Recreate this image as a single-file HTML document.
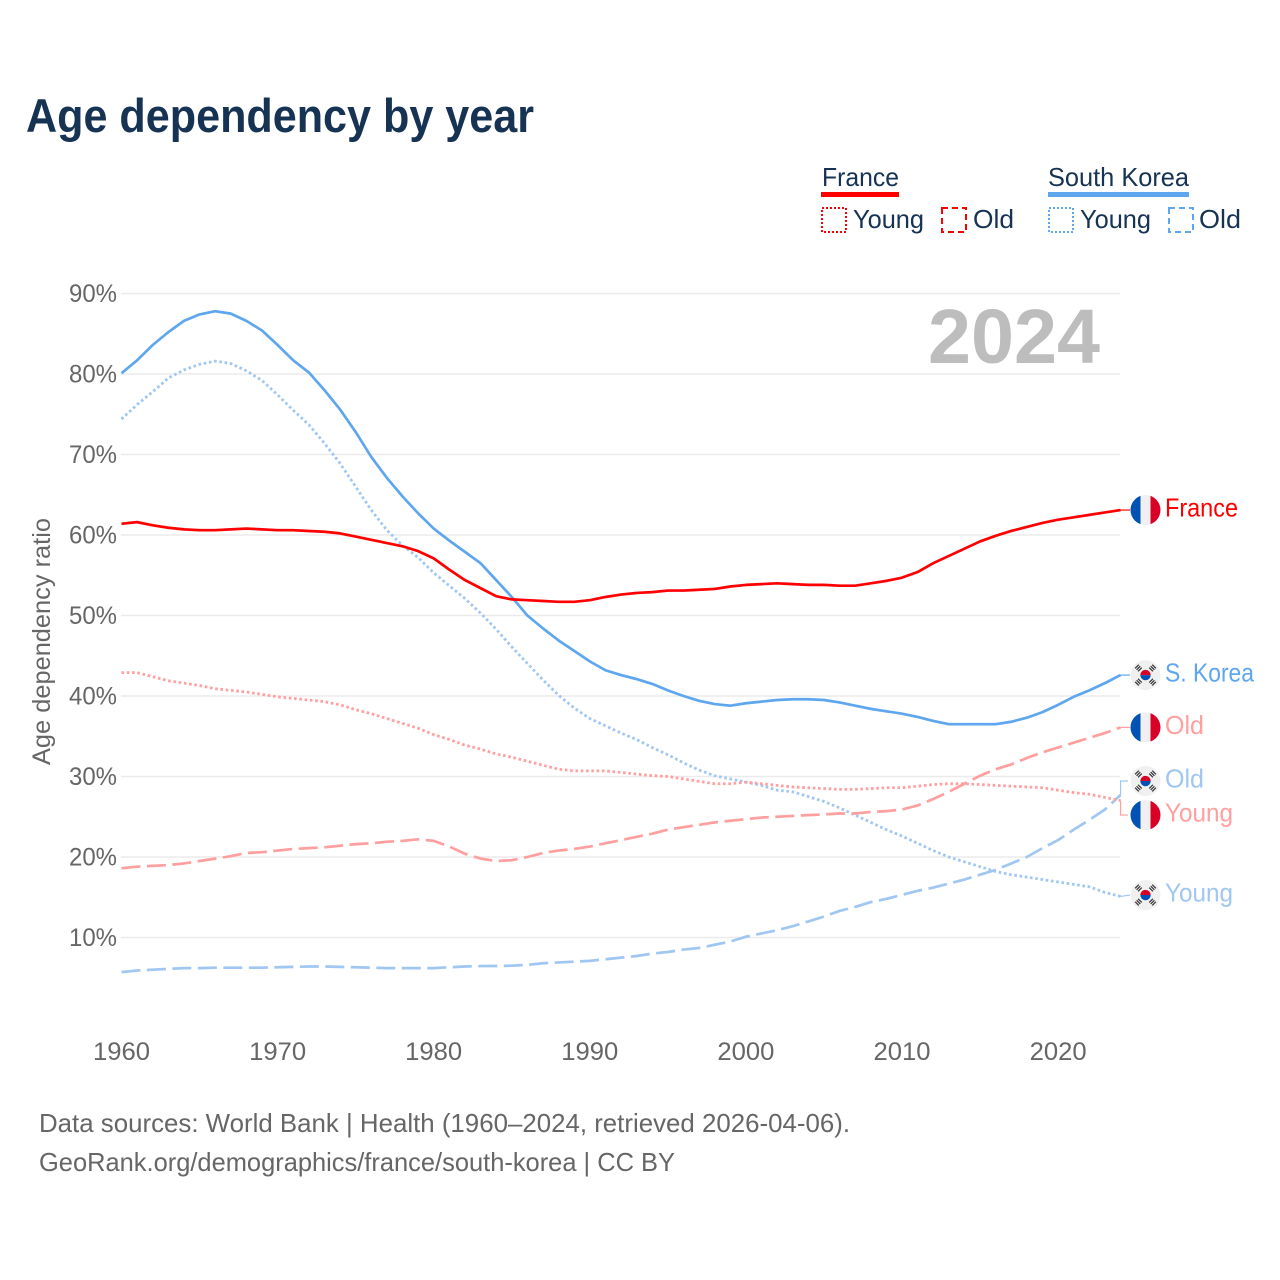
<!DOCTYPE html>
<html lang="en">
<head>
<meta charset="utf-8">
<title>Age dependency by year</title>
<style>
html,body{margin:0;padding:0;background:#fff;}
svg{display:block;font-family:"Liberation Sans",sans-serif;}
</style>
</head>
<body>
<svg id="chart" xmlns="http://www.w3.org/2000/svg" width="1280" height="1280" viewBox="0 0 1280 1280">
  <rect x="0" y="0" width="1280" height="1280" fill="#ffffff"/>
  <text x="26" y="132" font-size="47" font-weight="700" fill="#173354" textLength="508" lengthAdjust="spacingAndGlyphs">Age dependency by year</text>

  <g>
    <text x="822" y="186" font-size="26" fill="#173354" textLength="77" lengthAdjust="spacingAndGlyphs">France</text>
    <rect x="821" y="192" width="78" height="5" fill="#ff0000"/>
    <rect x="822" y="208" width="24" height="24" fill="none" stroke="#ff0000" stroke-width="2" stroke-dasharray="2,2"/>
    <text x="853" y="228" font-size="26" fill="#173354" textLength="71" lengthAdjust="spacingAndGlyphs">Young</text>
    <rect x="942" y="208" width="24" height="24" fill="none" stroke="#ff0000" stroke-width="2" stroke-dasharray="6,4"/>
    <text x="973" y="228" font-size="26" fill="#173354" textLength="41" lengthAdjust="spacingAndGlyphs">Old</text>
    <text x="1048" y="186" font-size="26" fill="#173354" textLength="141" lengthAdjust="spacingAndGlyphs">South Korea</text>
    <rect x="1048" y="192" width="141" height="5" fill="#5ea6ee"/>
    <rect x="1049" y="208" width="24" height="24" fill="none" stroke="#5ea6ee" stroke-width="2" stroke-dasharray="2,2"/>
    <text x="1080" y="228" font-size="26" fill="#173354" textLength="71" lengthAdjust="spacingAndGlyphs">Young</text>
    <rect x="1169" y="208" width="24" height="24" fill="none" stroke="#5ea6ee" stroke-width="2" stroke-dasharray="6,4"/>
    <text x="1199" y="228" font-size="26" fill="#173354" textLength="42" lengthAdjust="spacingAndGlyphs">Old</text>
  </g>

  <g id="grid"></g>
  <g id="yticks"></g>
  <g id="xticks"></g>
  <text transform="translate(50,641.5) rotate(-90)" text-anchor="middle" font-size="25" fill="#666666" textLength="247" lengthAdjust="spacingAndGlyphs">Age dependency ratio</text>
  <text x="928" y="363" font-size="77" font-weight="700" fill="#bdbdbd" textLength="172" lengthAdjust="spacingAndGlyphs">2024</text>
  <g id="series"></g>
  <g id="labels"></g>

  <text x="39" y="1132" font-size="26" fill="#666666" textLength="811" lengthAdjust="spacingAndGlyphs">Data sources: World Bank | Health (1960–2024, retrieved 2026-04-06).</text>
  <text x="39" y="1171" font-size="26" fill="#666666" textLength="636" lengthAdjust="spacingAndGlyphs">GeoRank.org/demographics/france/south-korea | CC BY</text>
</svg>
<script>
const startYear = 1960;
const yTickValues = [10, 20, 30, 40, 50, 60, 70, 80, 90];
const xTickValues = [1960, 1970, 1980, 1990, 2000, 2010, 2020];

const franceTotal = [61.4,61.6,61.2,60.9,60.7,60.6,60.6,60.7,60.8,60.7,
  60.6,60.6,60.5,60.4,60.2,59.8,59.4,59.0,58.6,58.0,
  57.1,55.7,54.4,53.4,52.4,52.0,51.9,51.8,51.7,51.7,
  51.9,52.3,52.6,52.8,52.9,53.1,53.1,53.2,53.3,53.6,
  53.8,53.9,54.0,53.9,53.8,53.8,53.7,53.7,54.0,54.3,
  54.7,55.4,56.5,57.4,58.3,59.2,59.9,60.5,61.0,61.5,
  61.9,62.2,62.5,62.8,63.1];
const koreaTotal = [80.1,81.7,83.6,85.2,86.6,87.4,87.8,87.5,86.6,85.4,
  83.6,81.7,80.2,78.0,75.6,72.8,69.7,67.1,64.8,62.7,
  60.8,59.3,57.9,56.5,54.4,52.3,50.0,48.4,46.9,45.6,
  44.3,43.2,42.6,42.1,41.5,40.7,40.0,39.4,39.0,38.8,
  39.1,39.3,39.5,39.6,39.6,39.5,39.2,38.8,38.4,38.1,
  37.8,37.4,36.9,36.5,36.5,36.5,36.5,36.8,37.3,38.0,
  38.9,39.9,40.7,41.6,42.6];
const franceYoung = [42.9,42.9,42.4,41.9,41.6,41.3,40.9,40.7,40.5,40.2,
  39.9,39.7,39.5,39.3,38.9,38.3,37.8,37.2,36.6,36.0,
  35.2,34.6,33.9,33.4,32.8,32.4,31.9,31.4,30.9,30.7,
  30.7,30.7,30.5,30.3,30.1,30.0,29.7,29.4,29.1,29.1,
  29.3,29.1,28.9,28.7,28.6,28.5,28.4,28.4,28.5,28.6,
  28.6,28.8,29.0,29.1,29.1,29.0,28.9,28.8,28.7,28.6,
  28.3,28.0,27.8,27.4,27.0];
const franceOld = [18.6,18.8,18.9,19.0,19.2,19.5,19.8,20.1,20.5,20.6,
  20.8,21.0,21.1,21.2,21.4,21.6,21.7,21.9,22.0,22.2,
  22.0,21.3,20.4,19.8,19.5,19.6,20.0,20.5,20.8,21.0,
  21.3,21.7,22.1,22.5,22.9,23.4,23.7,24.0,24.3,24.5,
  24.7,24.9,25.0,25.1,25.2,25.3,25.4,25.4,25.6,25.7,
  25.9,26.4,27.2,28.1,29.1,30.1,30.9,31.5,32.3,33.0,
  33.6,34.2,34.8,35.4,36.1];
const koreaYoung = [74.4,76.2,77.8,79.5,80.5,81.2,81.6,81.3,80.4,79.2,
  77.4,75.5,73.7,71.4,68.9,66.0,63.1,60.6,58.7,57.2,
  55.3,53.7,52.1,50.3,48.3,46.1,44.05,42.0,40.1,38.5,
  37.2,36.3,35.4,34.6,33.6,32.7,31.7,30.8,30.1,29.7,
  29.3,28.9,28.3,28.1,27.5,26.9,26.1,25.2,24.3,23.4,
  22.6,21.7,20.8,20.0,19.4,18.8,18.2,17.8,17.5,17.2,
  16.9,16.6,16.3,15.6,15.1];
const koreaOld = [5.7,5.9,6.0,6.1,6.2,6.2,6.25,6.25,6.25,6.25,
  6.3,6.35,6.4,6.4,6.35,6.3,6.25,6.2,6.2,6.2,
  6.2,6.3,6.4,6.45,6.46,6.5,6.6,6.8,6.9,7.0,
  7.1,7.3,7.5,7.7,8.0,8.2,8.5,8.7,9.1,9.5,
  10.1,10.5,10.9,11.4,12.0,12.6,13.3,13.8,14.4,14.8,
  15.3,15.8,16.2,16.7,17.2,17.8,18.4,19.2,20.0,21.1,
  22.1,23.4,24.6,25.9,27.7];

const NS = 'http://www.w3.org/2000/svg';
function xScale(year) { return 121.5 + (year - 1960) * 15.61; }
function yScale(v) { return 1018 - v * 8.05; }
function make(tag, attrs, parent) {
  const el = document.createElementNS(NS, tag);
  for (const k in attrs) el.setAttribute(k, attrs[k]);
  parent.appendChild(el);
  return el;
}

const gridG = document.getElementById('grid');
const yG = document.getElementById('yticks');
const xG = document.getElementById('xticks');
const seriesG = document.getElementById('series');
const labelsG = document.getElementById('labels');

yTickValues.forEach(function (t) {
  const line = make('line', {x1: 121, x2: 1120, y1: yScale(t), y2: yScale(t), stroke: '#ebebeb', 'stroke-width': 1.5}, gridG);
  
  
  const label = make('text', {x: 69, y: yScale(t) + 8.5, 'font-size': 25, fill: '#666666', textLength: 48, lengthAdjust: 'spacingAndGlyphs'}, yG);
  label.textContent = t + '%';
  
  
});

xTickValues.forEach(function (t) {
  const label = make('text', {x: xScale(t) - 28.5, y: 1060, 'font-size': 25, fill: '#666666', textLength: 57, lengthAdjust: 'spacingAndGlyphs'}, xG);
  label.textContent = t;
  
  
});

function drawLine(values, color, dash, width, name) {
  const pts = values.map(function (v, i) { return xScale(startYear + i).toFixed(2) + ',' + yScale(v).toFixed(2); }).join(' ');
  const attrs = {points: pts, fill: 'none', stroke: color, 'stroke-width': width, 'stroke-linejoin': 'round'};
  if (dash) attrs['stroke-dasharray'] = dash;
  const line = make('polyline', attrs, seriesG);
  
  
}

const DOT = '2.6,2.7';
const DASH = '19,6.5';
drawLine(koreaOld, '#a0c6f2', DASH, 2.7, 'line-korea-old');
drawLine(koreaYoung, '#a0c6f2', DOT, 2.8, 'line-korea-young');
drawLine(franceOld, '#ff9f9f', DASH, 2.7, 'line-france-old');
drawLine(franceYoung, '#ff9f9f', DOT, 2.8, 'line-france-young');
drawLine(koreaTotal, '#5ea6ee', null, 2.7, 'line-korea-total');
drawLine(franceTotal, '#ff0000', null, 2.7, 'line-france-total');

const defs = make('defs', {}, document.getElementById('chart'));
const clip = make('clipPath', {id: 'flagclip'}, defs);
make('circle', {cx: 0, cy: 0, r: 15}, clip);

function franceFlag(g) {
  const inner = make('g', {'clip-path': 'url(#flagclip)'}, g);
  make('rect', {x: -15, y: -15, width: 10, height: 30, fill: '#0052b4'}, inner);
  make('rect', {x: -5, y: -15, width: 10, height: 30, fill: '#f0f0f0'}, inner);
  make('rect', {x: 5, y: -15, width: 10, height: 30, fill: '#d80027'}, inner);
}
function koreaFlag(g) {
  make('circle', {cx: 0, cy: 0, r: 15, fill: '#f0f0f0'}, g);
  make('path', {d: 'M-5.2,0 A5.2,5.2 0 0 1 5.2,0 Z', fill: '#d80027'}, g);
  make('path', {d: 'M-5.2,0 A5.2,5.2 0 0 0 5.2,0 Z', fill: '#0052b4'}, g);
  [45, 135, 225, 315].forEach(function (a) {
    const tri = make('g', {transform: 'rotate(' + a + ') translate(0,-10)'}, g);
    [-2.1, 0, 2.1].forEach(function (off) {
      make('rect', {x: -2.6, y: off - 0.6, width: 5.2, height: 1.2, fill: '#333333'}, tri);
    });
  });
}

function drawLabel(values, text, width, color, lineColor, flag, dy, name) {
  const endX = xScale(startYear + values.length - 1);
  const endY = yScale(values[values.length - 1]);
  const cy = endY + dy;
  const g = make('g', {}, labelsG);
  
  
  const points = Math.abs(dy) < 3
    ? endX + ',' + endY + ' 1130,' + cy
    : endX + ',' + endY + ' ' + endX + ',' + cy + ' 1128,' + cy;
  const conn = make('polyline', {points: points, fill: 'none', stroke: lineColor, 'stroke-width': 1.2}, g);
  
  
  const f = make('g', {transform: 'translate(1145.5,' + cy + ')'}, g);
  
  
  flag(f);
  const t = make('text', {x: 1165, y: cy + 6.5, 'font-size': 26, fill: color, textLength: width, lengthAdjust: 'spacingAndGlyphs'}, g);
  t.textContent = text;
  
  
}

drawLabel(franceTotal, 'France', 73, '#ff0000', '#ff0000', franceFlag, 0, 'label-france');
drawLabel(koreaTotal, 'S. Korea', 89, '#5ea6ee', '#5ea6ee', koreaFlag, 0, 'label-south-korea');
drawLabel(franceOld, 'Old', 39, '#ff9f9f', '#ff9f9f', franceFlag, 0, 'label-france-old');
drawLabel(koreaOld, 'Old', 39, '#a0c6f2', '#a0c6f2', koreaFlag, -14, 'label-korea-old');
drawLabel(franceYoung, 'Young', 68, '#ff9f9f', '#ff9f9f', franceFlag, 14.4, 'label-france-young');
drawLabel(koreaYoung, 'Young', 68, '#a0c6f2', '#a0c6f2', koreaFlag, -1.4, 'label-korea-young');
</script>
</body>
</html>
